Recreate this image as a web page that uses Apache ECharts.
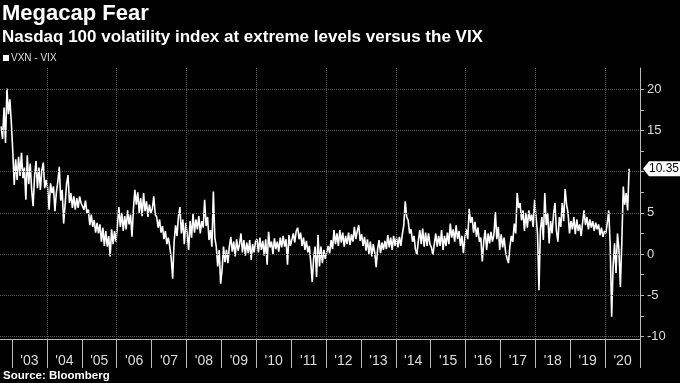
<!DOCTYPE html>
<html><head><meta charset="utf-8">
<script src="https://cdn.jsdelivr.net/npm/echarts@6/dist/echarts.min.js"></script>
<style>html,body{margin:0;padding:0;background:#000;}#c{width:680px;height:383px;}</style>
</head><body><div id="c"></div>
<script>
// ---- Data (VXN - VIX spread; half-month samples) ----
const slotsPerYear = 24;
const firstSlot2002 = 16;
const v2002 = [15.5, 14.0, 17.8, 13.5, 20.1, 17.0, 18.8, 16.0];
const v2003 = [12.5, 8.4, 11.5, 9.0, 11.8, 9.5, 12.3, 9.2, 10.5, 6.6, 12.0, 8.5, 11.0, 7.8, 5.8, 9.5, 11.3, 8.0, 10.5, 7.8, 10.2, 11.1, 8.0, 9.0];
const v2004 = [8.0, 5.4, 8.6, 7.4, 8.2, 5.2, 7.5, 8.8, 10.6, 6.5, 7.8, 3.7, 6.0, 8.5, 9.6, 6.2, 7.4, 5.6, 7.0, 5.4, 6.8, 5.6, 7.0, 6.2];
const v2005 = [6.2, 5.4, 6.5, 5.0, 5.4, 3.5, 4.8, 3.3, 4.1, 2.6, 3.8, 2.5, 3.6, 1.5, 3.2, 1.0, 2.8, 0.9, 2.2, -0.3, 3.0, 1.2, 2.8, 1.5];
const v2006 = [3.5, 5.7, 3.3, 5.0, 2.8, 4.6, 3.0, 5.3, 3.6, 4.8, 2.1, 5.5, 7.8, 6.0, 7.5, 5.0, 6.8, 4.6, 7.4, 5.2, 6.4, 4.5, 6.0, 5.0];
const v2007 = [5.5, 7.0, 4.8, 4.5, 3.2, 4.2, 2.6, 3.4, 1.8, 2.8, 1.2, 2.0, 0.9, -0.5, -3.0, 1.5, 3.5, 2.2, 4.6, 5.7, 2.5, 4.2, 1.2, 3.8];
const v2008 = [2.5, 0.5, 4.0, 2.0, 4.9, 2.6, 4.2, 3.0, 4.6, 2.5, 4.0, 3.2, 6.6, 3.4, 4.5, 1.7, 2.9, 0.9, 7.6, 2.0, 0.9, -1.5, 0.5, -3.6];
const v2009 = [-1.9, 0.9, -1.0, 0.5, -1.1, 0.9, 2.1, 0.3, 1.5, -0.3, 1.8, 0.4, 1.2, 2.5, 0.2, 1.7, -0.2, 1.4, 0.1, 1.7, -0.7, 1.2, 0.2, 1.5];
const v2010 = [1.8, 0.2, 2.0, 0.5, 1.6, -0.2, 1.8, -1.3, 2.7, 0.8, 1.5, 0.0, 1.9, 0.6, 1.5, 0.3, 2.0, 0.8, 2.2, 0.9, 1.8, -1.3, 2.3, 1.0];
const v2011 = [1.2, 2.5, 1.4, 2.8, 3.2, 1.8, 2.6, 1.0, 2.0, 0.5, 1.6, 0.2, 1.0, -1.0, -3.4, -0.5, 0.9, -2.8, 2.3, -1.5, 0.9, -1.1, 0.5, -0.6];
const v2012 = [0.2, 1.0, 0.1, 1.7, 0.6, 2.9, 1.2, 2.5, 1.0, 2.9, 1.4, 2.6, 0.9, 2.2, 1.2, 2.6, 1.1, 2.4, 1.5, 3.3, 1.8, 2.8, 3.5, 1.6];
const v2013 = [2.4, 1.0, 2.1, 0.4, 1.8, 0.0, 1.5, -0.3, 1.2, 0.2, -1.6, 0.6, 1.7, 0.1, 1.4, 0.5, 1.6, 0.6, 2.3, 0.8, 2.0, 0.5, 2.2, 1.0];
const v2014 = [2.0, 0.8, 2.1, 1.0, 2.4, 3.5, 6.4, 4.5, 4.1, 2.5, 3.0, 1.5, 2.2, 0.6, -0.1, 1.6, 2.9, 1.2, 3.1, 0.9, 2.6, 1.0, 2.5, 1.2];
const v2015 = [0.8, -0.1, 1.2, 2.5, 0.9, 2.2, 1.0, 2.9, 0.5, 2.2, 1.0, 2.6, 1.2, 3.7, 2.0, 3.0, 1.5, 3.5, 1.8, 2.8, 1.0, 2.2, 0.1, 2.0];
const v2016 = [3.0, 1.8, 5.5, 3.8, 4.5, 2.6, 3.9, 2.1, 3.2, 1.5, 2.0, -0.9, 1.5, 2.9, 0.5, 2.5, 1.3, 2.7, 1.5, 2.3, 5.1, 1.8, 3.3, 0.5];
const v2017 = [2.4, 0.8, 2.0, 0.3, -0.5, -1.1, 0.9, 2.2, 1.5, 3.7, 2.5, 7.4, 5.6, 6.2, 4.1, 5.3, 2.8, 5.0, 3.2, 5.3, 4.0, 4.8, 3.3, 6.6];
const v2018 = [4.5, 2.5, -4.4, 3.0, 4.5, 1.7, 7.4, 3.5, 5.0, 1.3, 4.0, 2.5, 4.8, 6.2, 2.8, 1.5, 4.5, 3.3, 6.2, 4.0, 7.9, 6.0, 5.0, 2.5];
const v2019 = [4.0, 3.0, 4.5, 2.4, 4.2, 2.8, 3.6, 2.2, 3.8, 5.3, 3.5, 4.5, 3.0, 4.2, 3.2, 4.0, 2.8, 3.8, 3.0, 3.6, 2.3, 3.2, 2.1, 2.8];
const v2020 = [2.5, 3.8, 5.3, 1.0, -7.6, -1.5, 1.3, -2.3, 2.5, 0.5, -4.0, 1.5, 8.2, 6.0, 7.4, 5.3, 10.35];

const years = [2002, 2003, 2004, 2005, 2006, 2007, 2008, 2009, 2010, 2011, 2012, 2013, 2014, 2015, 2016, 2017, 2018, 2019, 2020];
const yearValues = [v2002, v2003, v2004, v2005, v2006, v2007, v2008, v2009, v2010, v2011, v2012, v2013, v2014, v2015, v2016, v2017, v2018, v2019, v2020];

// Tick labels
const yearLabels = ["'03","'04","'05","'06","'07","'08","'09","'10","'11","'12","'13","'14","'15","'16","'17","'18","'19","'20"];
const yearBoundaries = [2003,2004,2005,2006,2007,2008,2009,2010,2011,2012,2013,2014,2015,2016,2017,2018,2019,2020,2021];
const gridYears = [2004,2006,2008,2010,2012,2014,2016,2018,2020];
const yTickValues = [-10, -5, 0, 5, 10, 15, 20];
const yMinorTicks = [-10, -7.5, -5, -2.5, 0, 2.5, 5, 7.5, 10, 12.5, 15, 17.5, 20];

// ---- Build series points ----
const points = [];
years.forEach((yr, k) => {
  const start = yr === 2002 ? firstSlot2002 : 0;
  yearValues[k].forEach((v, i) => {
    points.push([yr + (start + i + 0.5) / slotsPerYear, v]);
  });
});
const lastValue = v2020[v2020.length - 1];
const labelPositions = yearLabels.map((_, i) => yearBoundaries[i] + 0.5);

const xMin = 2002.655, xMax = 2021;
const chart = echarts.init(document.getElementById('c'), null, {renderer: 'canvas'});
const font = 'Liberation Sans, Arial, sans-serif';
chart.setOption({
  backgroundColor: '#000',
  animation: false,
  textStyle: {fontFamily: font},
  title: [
    {text: 'Megacap Fear', left: 2, top: 3, padding: 0,
     textStyle: {color: '#fff', fontSize: 22, fontWeight: 'bold', fontFamily: font}},
    {text: 'Nasdaq 100 volatility index at extreme levels versus the VIX', left: 2, top: 29, padding: 0,
     textStyle: {color: '#fff', fontSize: 17, fontWeight: 'bold', fontFamily: font}},
    {text: 'Source: Bloomberg', left: 3, top: 370, padding: 0,
     textStyle: {color: '#fff', fontSize: 11.5, fontWeight: 'bold', fontFamily: font}}
  ],
  legend: {
    data: ['VXN - VIX'], left: 3, top: 53, padding: 0, icon: 'rect', itemWidth: 6, itemHeight: 6,
    textStyle: {color: '#ddd', fontSize: 10, fontFamily: 'Liberation Sans Narrow, ' + font, padding: [0, 0, 0, -3]}
  },
  grid: {left: 0, right: 40, top: 68, bottom: 44},
  xAxis: {
    type: 'value', min: xMin, max: xMax,
    axisLine: {show: true, onZero: false, lineStyle: {color: '#bbb', width: 1}},
    axisTick: {show: true, customValues: yearBoundaries, length: 29, lineStyle: {color: '#bbb', width: 1}},
    axisLabel: {show: true, customValues: labelPositions, color: '#ddd', fontSize: 14, margin: 15,
      fontFamily: font,
      formatter: (v) => yearLabels[Math.round(v - yearBoundaries[0] - 0.5)]},
    splitLine: {show: false}
  },
  yAxis: {
    type: 'value', position: 'right', min: -10.32, max: 22.6,
    axisLine: {show: true, lineStyle: {color: '#bbb', width: 1}},
    axisTick: {show: true, customValues: yMinorTicks, length: 4, lineStyle: {color: '#bbb'}},
    axisLabel: {show: true, customValues: yTickValues, color: '#ddd', fontSize: 13, margin: 7, fontFamily: font,
      formatter: (v) => String(v)},
    splitLine: {show: false}
  },
  series: [
    {
      type: 'line', name: 'grid', data: [], silent: true, z: 1,
      markLine: {
        silent: true, symbol: ['none', 'none'], label: {show: false}, animation: false,
        lineStyle: {color: '#5a5a5a', type: 'dotted', width: 1},
        data: yTickValues.map(v => ({yAxis: v})).concat(gridYears.map(v => ({xAxis: v})))
      }
    },
    {
      type: 'line', name: 'VXN - VIX', data: points, showSymbol: false, z: 3,
      lineStyle: {color: '#fff', width: 1.6}, itemStyle: {color: '#fff'},
      markPoint: {
        silent: true, animation: false,
        symbol: 'path://M0,7 L6,0 L40,0 L40,14 L6,14 Z',
        symbolSize: [40, 15], symbolOffset: [23, 0],
        itemStyle: {color: '#fff'},
        label: {show: true, position: 'inside', color: '#000', fontSize: 12, offset: [1, 0], fontFamily: font,
          formatter: (p) => String(p.value)},
        data: [{coord: [xMax, lastValue], value: lastValue}]
      }
    }
  ]
});
</script></body></html>
